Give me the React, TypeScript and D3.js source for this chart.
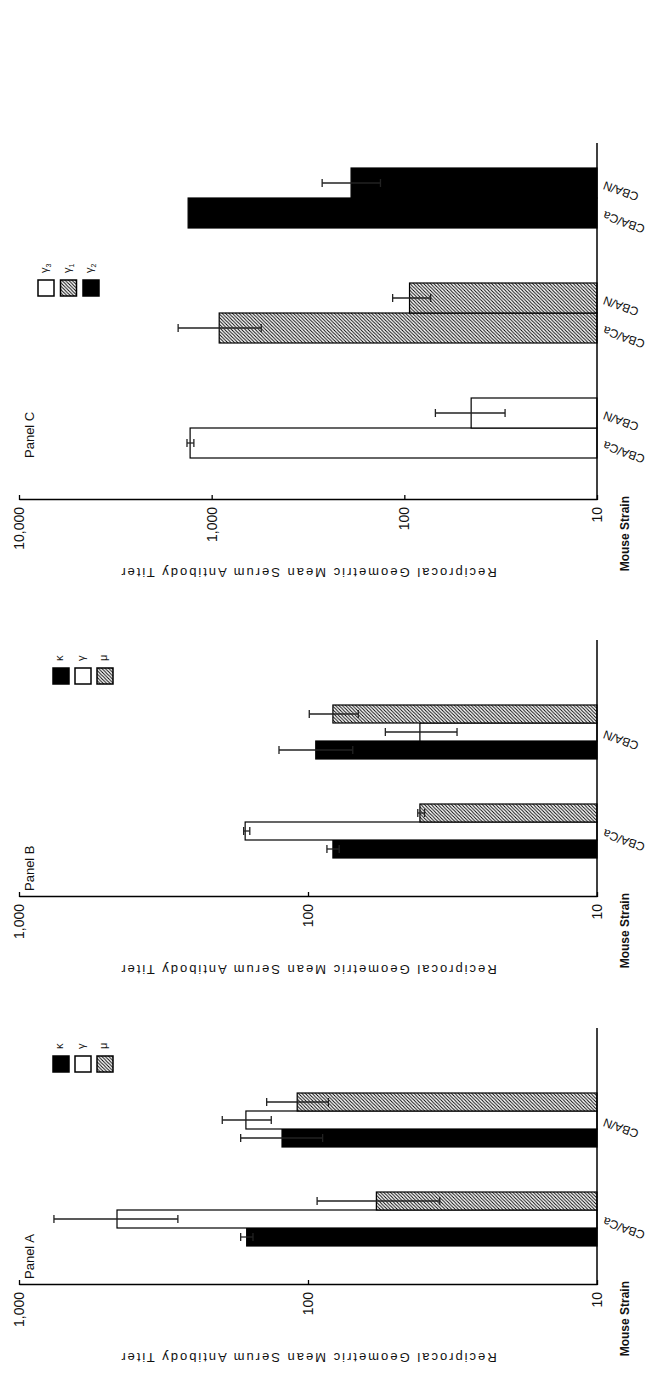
import { useEffect, useRef } from 'react';
import * as d3 from 'd3';

const strains = ['CBA/Ca', 'CBA/N'];

// Panels A and B: light chain / heavy chain classes, values [class][strain]
const classesAB = ['κ', 'γ', 'μ'];
const panelAMean = [[163, 123], [458, 164], [58, 109]];
const panelALow = [[155, 89], [282, 134], [35, 85]];
const panelAHigh = [[171, 171], [757, 198], [93, 139]];

const panelBMean = [[82, 94], [165, 41], [41, 82]];
const panelBLow = [[78, 70], [159, 30.5], [39.5, 67]];
const panelBHigh = [[86, 126], [167, 54], [41.7, 99]];

// Panel C: IgG subclasses
const classesC = ['γ3', 'γ1', 'γ2'];
const panelCMean = [[1294, 45], [914, 94], [1325, 189]];
const panelCLow = [[1237, 30], [553, 73], [null, 133]];
const panelCHigh = [[1343, 69], [1493, 115], [null, 267]];

const ticksAB = [10, 100, 1000];
const ticksC = [10, 100, 1000, 10000];

const W = 655;
const H = 1373;
const BASE = 597;
const TOP = 19;
const FONT = 'Liberation Sans, Arial, sans-serif';

const fills = {
  'κ': '#000', 'γ': '#fff', 'μ': 'url(#hatch)',
  'γ3': '#fff', 'γ1': 'url(#hatch)', 'γ2': '#000'
};

const panels = [
  { label: 'Panel A', axis: 88, start: 39, step: 99, bw: 54, length: 257, max: 1000, ticks: ticksAB,
    classes: classesAB, mean: panelAMean, low: panelALow, high: panelAHigh, byStrain: true,
    labelOff: 6, legendX: 301, legendY: 53, legendGap: 22 },
  { label: 'Panel B', axis: 476, start: 39, step: 99, bw: 54, length: 257, max: 1000, ticks: ticksAB,
    classes: classesAB, mean: panelBMean, low: panelBLow, high: panelBHigh, byStrain: true,
    labelOff: 6, legendX: 689, legendY: 53, legendGap: 22 },
  { label: 'Panel C', axis: 873, start: 42, step: 115, bw: 60, length: 357, max: 10000, ticks: ticksC,
    classes: classesC, mean: panelCMean, low: panelCLow, high: panelCHigh, byStrain: false,
    labelOff: 42, legendX: 1077, legendY: 38, legendGap: 22.5 }
];

const App = () => {
  const svgRef = useRef();

  useEffect(() => {
    document.body.style.margin = '0';
    const svg = d3.select(svgRef.current);
    svg.selectAll('*').remove();

    const defs = svg.append('defs');
    const pat = defs.append('pattern')
      .attr('id', 'hatch')
      .attr('patternUnits', 'userSpaceOnUse')
      .attr('width', 3.4)
      .attr('height', 3.4);
    pat.append('rect').attr('width', 3.4).attr('height', 3.4).attr('fill', '#fff');
    pat.append('path')
      .attr('d', 'M-0.85,0.85 L0.85,-0.85 M0,3.4 L3.4,0 M2.55,4.25 L4.25,2.55')
      .attr('stroke', '#000')
      .attr('stroke-width', 0.95);

    // the whole figure is printed turned a quarter turn
    const root = svg.append('g').attr('transform', `translate(0,${H}) rotate(-90)`);

    panels.forEach(p => {
      const g = root.append('g');
      const y = d3.scaleLog().domain([10, p.max]).range([BASE, TOP]);

      const outer = p.byStrain ? strains : p.classes;
      const inner = p.byStrain ? p.classes : strains;
      const x0 = d3.scaleBand()
        .domain(outer)
        .range([p.axis + p.start, p.axis + p.start + p.step * (outer.length - 1) + p.bw])
        .paddingInner(1 - p.bw / p.step)
        .paddingOuter(0);
      const x1 = d3.scaleBand().domain(inner).range([0, x0.bandwidth()]);

      const bars = [];
      p.classes.forEach((c, ci) => {
        strains.forEach((s, si) => {
          const o = p.byStrain ? s : c;
          const i = p.byStrain ? c : s;
          bars.push({
            cls: c, strain: s,
            x: x0(o) + x1(i), w: x1.bandwidth(),
            v: p.mean[ci][si], lo: p.low[ci][si], hi: p.high[ci][si]
          });
        });
      });

      g.selectAll('rect.bar')
        .data(bars)
        .enter()
        .append('rect')
        .attr('class', 'bar')
        .attr('x', d => d.x)
        .attr('y', d => y(d.v))
        .attr('width', d => d.w)
        .attr('height', d => BASE - y(d.v))
        .attr('fill', d => fills[d.cls])
        .attr('stroke', '#000')
        .attr('stroke-width', 1.2);

      // error bars
      const eb = g.selectAll('g.err')
        .data(bars.filter(d => d.lo != null))
        .enter()
        .append('g')
        .attr('stroke', '#222')
        .attr('stroke-width', 1.3);
      eb.append('line')
        .attr('x1', d => d.x + d.w / 2).attr('x2', d => d.x + d.w / 2)
        .attr('y1', d => y(d.lo)).attr('y2', d => y(d.hi));
      eb.append('line')
        .attr('x1', d => d.x + d.w / 2 - 4).attr('x2', d => d.x + d.w / 2 + 4)
        .attr('y1', d => y(d.lo)).attr('y2', d => y(d.lo));
      eb.append('line')
        .attr('x1', d => d.x + d.w / 2 - 4).attr('x2', d => d.x + d.w / 2 + 4)
        .attr('y1', d => y(d.hi)).attr('y2', d => y(d.hi));

      // value axis
      const ax = g.append('g')
        .attr('transform', `translate(${p.axis},0)`)
        .call(d3.axisLeft(y)
          .tickValues(p.ticks)
          .tickFormat(d3.format(','))
          .tickSizeInner(-5)
          .tickSizeOuter(0)
          .tickPadding(7));
      ax.select('.domain').attr('stroke', '#000').attr('stroke-width', 1.5);
      ax.selectAll('.tick line').attr('stroke', '#000').attr('stroke-width', 1.3);
      ax.selectAll('.tick text')
        .attr('font-family', FONT)
        .attr('font-size', 14)
        .attr('fill', '#111');

      // strain baseline
      g.append('line')
        .attr('x1', p.axis).attr('x2', p.axis + p.length)
        .attr('y1', BASE).attr('y2', BASE)
        .attr('stroke', '#000').attr('stroke-width', 1.5);

      // strain labels
      const labelPts = p.byStrain
        ? strains.map(s => ({ t: s, x: x0(s) + x0.bandwidth() / 2 }))
        : bars.map(d => ({ t: d.strain, x: d.x + d.w / 2 }));
      g.selectAll('text.cat')
        .data(labelPts)
        .enter()
        .append('text')
        .attr('class', 'cat')
        .attr('transform', d => `translate(${d.x + 2},${BASE + 8}) rotate(-70)`)
        .attr('text-anchor', 'end')
        .attr('font-family', FONT)
        .attr('font-size', 12)
        .attr('fill', '#111')
        .text(d => d.t);

      g.append('text')
        .attr('x', p.axis + 4)
        .attr('y', 629)
        .attr('text-anchor', 'end')
        .attr('font-family', FONT)
        .attr('font-size', 12)
        .attr('font-weight', 'bold')
        .attr('fill', '#111')
        .text('Mouse Strain');

      g.append('text')
        .attr('transform', `translate(${p.axis - 68},${(BASE + TOP) / 2}) rotate(-90)`)
        .attr('text-anchor', 'middle')
        .attr('font-family', FONT)
        .attr('font-size', 13)
        .attr('letter-spacing', 2)
        .attr('fill', '#111')
        .text('Reciprocal Geometric Mean Serum Antibody Titer');

      g.append('text')
        .attr('x', p.axis + p.labelOff)
        .attr('y', 34)
        .attr('font-family', FONT)
        .attr('font-size', 13)
        .attr('fill', '#111')
        .text(p.label);

      // legend
      const leg = g.selectAll('g.leg')
        .data(p.classes)
        .enter()
        .append('g')
        .attr('transform', (d, i) => `translate(${p.legendX},${p.legendY + i * p.legendGap})`);
      leg.append('rect')
        .attr('width', 16).attr('height', 16)
        .attr('fill', d => fills[d])
        .attr('stroke', '#000').attr('stroke-width', 1.5);
      const lt = leg.append('text')
        .attr('x', 23).attr('y', 10)
        .attr('font-family', FONT)
        .attr('font-size', 11)
        .attr('fill', '#111');
      lt.append('tspan').text(d => d[0]);
      lt.append('tspan')
        .attr('font-size', 7)
        .attr('dy', 3)
        .text(d => d.slice(1));
    });
  }, []);

  return (
    <svg ref={svgRef} width={W} height={H} style={{ display: 'block', background: '#fff' }}></svg>
  );
};

export default App;
